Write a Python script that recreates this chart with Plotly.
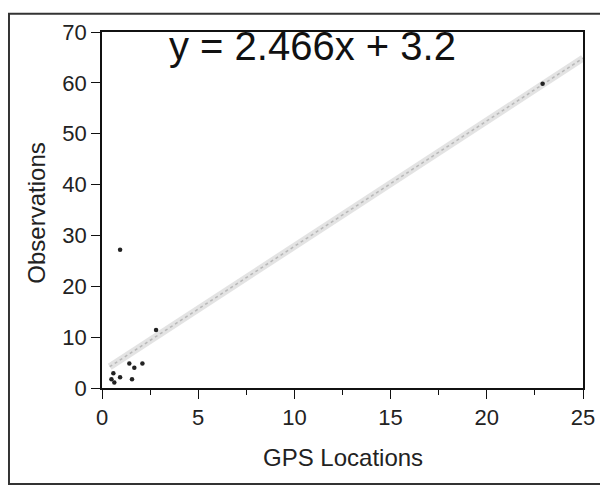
import plotly.graph_objects as go

# Data
gps_locations = [0.49, 0.59, 0.64, 0.94, 0.94, 1.42, 1.56, 1.68, 2.10, 2.81, 22.9]
observations = [1.7, 2.9, 1.1, 2.1, 27.2, 4.8, 1.7, 4.0, 4.8, 11.4, 59.8]
slope = 2.466
intercept = 3.2
fit_x = [0.4, 25]
fit_y = [slope * v + intercept for v in fit_x]
equation_text = "y = 2.466x + 3.2"
x_ticks = [0, 5, 10, 15, 20, 25]
y_ticks = [0, 10, 20, 30, 40, 50, 60, 70]

FONT = "Liberation Sans, Arial, sans-serif"

fig = go.Figure()
fig.add_trace(go.Scatter(x=fit_x, y=fit_y, mode="lines",
                         line=dict(color="rgba(215,215,215,0.7)", width=7),
                         hoverinfo="skip", showlegend=False))
fig.add_trace(go.Scatter(x=fit_x, y=fit_y, mode="lines",
                         line=dict(color="rgba(170,170,170,0.75)", width=1.5, dash="dot"),
                         hoverinfo="skip", showlegend=False))
fig.add_trace(go.Scatter(x=gps_locations, y=observations, mode="markers",
                         marker=dict(color="#222", size=4.5),
                         showlegend=False))

axis_common = dict(showgrid=False, zeroline=False, showline=True, linecolor="#111",
                   linewidth=1.5, mirror=True, ticks="outside", tickcolor="#111",
                   tickwidth=1.2, ticklen=9,
                   tickfont=dict(family=FONT, size=22, color="#222"))

fig.update_xaxes(range=[0, 25], tickvals=x_ticks, **axis_common,
                 minor=dict(dtick=2.5, ticks="outside", ticklen=5, tickcolor="#111", tickwidth=1))
fig.update_yaxes(range=[0, 70], tickvals=y_ticks, **axis_common)

fig.add_annotation(text=equation_text, xref="paper", yref="paper", x=0.4366, y=0.962,
                   xanchor="center", yanchor="middle", showarrow=False,
                   font=dict(family=FONT, size=40, color="#111"))
fig.add_annotation(text="GPS Locations", xref="paper", yref="paper", x=0.5, y=-0.195,
                   xanchor="center", yanchor="middle", showarrow=False,
                   font=dict(family=FONT, size=24, color="#222"))
fig.add_annotation(text="Observations", xref="paper", yref="paper", x=-0.137, y=0.49,
                   xanchor="center", yanchor="middle", textangle=-90, showarrow=False,
                   font=dict(family=FONT, size=24, color="#222"))

# outer frame (page has an 8px body margin; figure is sized to fit the window)
fig.add_shape(type="rect", xref="paper", yref="paper",
              x0=-0.1934, x1=1.08, y0=-0.2697, y1=1.051,
              line=dict(color="#333", width=2), layer="below")

fig.update_layout(width=600, height=479,
                  margin=dict(l=94, r=25, t=20, b=99),
                  paper_bgcolor="white", plot_bgcolor="white")

fig.write_html("out.html")
